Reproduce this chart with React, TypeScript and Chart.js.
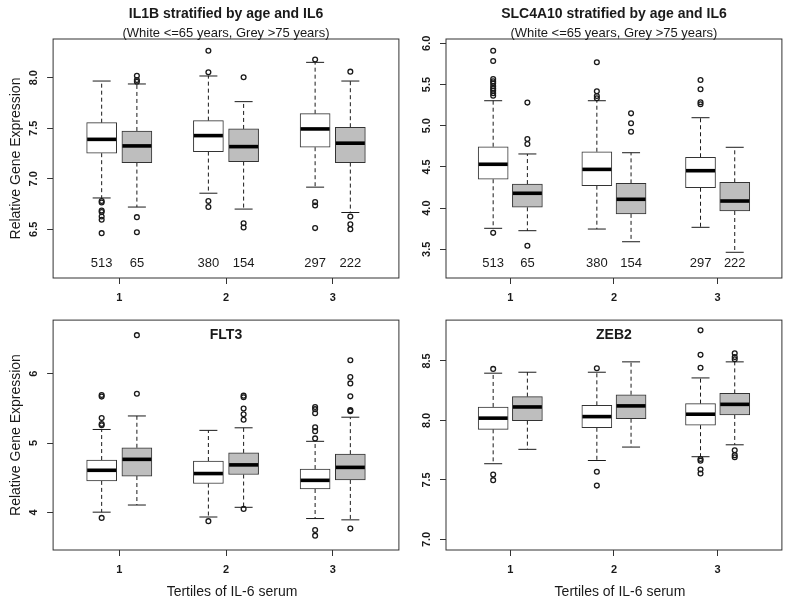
import React, { useEffect, useRef } from 'react';
import { Chart, registerables } from 'chart.js';

Chart.register(...registerables);

const FONT = "'Liberation Sans', Arial, sans-serif";

// categories
const tertiles = [1, 2, 3];
const tertileTicks = [1, 2, 3];
// sample sizes: white (<=65), grey (>75) for each tertile
const sampleSizes = [513, 65, 380, 154, 297, 222];

// box stats per tertile: [lower whisker, Q1, median, Q3, upper whisker]
const il1bWhite = [
  [6.81, 7.253, 7.39, 7.555, 7.967],
  [6.857, 7.269, 7.427, 7.575, 8.017],
  [6.917, 7.312, 7.493, 7.644, 8.152],
];
const il1bGrey = [
  [6.72, 7.16, 7.325, 7.473, 7.938],
  [6.7, 7.17, 7.318, 7.493, 7.763],
  [6.666, 7.16, 7.352, 7.51, 7.967],
];
const il1bWhiteOut = [
  [6.78, 6.765, 6.686, 6.67, 6.626, 6.594, 6.462],
  [8.267, 8.053, 6.78, 6.72],
  [8.18, 6.769, 6.735, 6.512],
];
const il1bGreyOut = [
  [8.02, 7.977, 7.96, 6.62, 6.47],
  [8.004, 6.56, 6.518],
  [8.06, 6.627, 6.55, 6.5],
];
const il1bTicks = [6.5, 7.0, 7.5, 8.0];

const slcWhite = [
  [3.755, 4.35, 4.532, 4.745, 5.303],
  [3.746, 4.272, 4.47, 4.684, 5.303],
  [3.767, 4.247, 4.454, 4.617, 5.097],
];
const slcGrey = [
  [3.726, 4.01, 4.18, 4.292, 4.657],
  [3.592, 3.93, 4.107, 4.3, 4.672],
  [3.464, 3.965, 4.086, 4.313, 4.738],
];
const slcWhiteOut = [
  [5.91, 5.785, 5.567, 5.54, 5.515, 5.48, 5.45, 5.425, 5.393, 5.364, 3.7],
  [5.77, 5.417, 5.36, 5.333],
  [5.555, 5.442, 5.284, 5.26],
];
const slcGreyOut = [
  [5.28, 4.839, 4.778, 3.544],
  [5.15, 5.03, 4.927],
  [],
];
const slcTicks = [3.5, 4.0, 4.5, 5.0, 5.5, 6.0];

const flt3White = [
  [4.003, 4.454, 4.607, 4.755, 5.196],
  [3.933, 4.416, 4.56, 4.741, 5.183],
  [3.911, 4.337, 4.462, 4.625, 5.025],
];
const flt3Grey = [
  [4.106, 4.524, 4.765, 4.932, 5.391],
  [4.073, 4.546, 4.685, 4.858, 5.22],
  [3.892, 4.468, 4.649, 4.84, 5.373],
];
const flt3WhiteOut = [
  [5.694, 5.67, 5.36, 5.276, 5.257, 3.92],
  [3.873],
  [5.52, 5.489, 5.429, 5.228, 5.172, 5.067, 3.744, 3.664],
];
const flt3GreyOut = [
  [6.557, 5.712],
  [5.684, 5.66, 5.499, 5.415, 5.336, 4.05],
  [6.195, 5.953, 5.861, 5.674, 5.475, 5.46, 3.766],
];
const flt3Ticks = [4, 5, 6];

const zeb2White = [
  [7.636, 7.925, 8.019, 8.113, 8.397],
  [7.663, 7.938, 8.032, 8.127, 8.405],
  [7.695, 7.96, 8.052, 8.141, 8.357],
];
const zeb2Grey = [
  [7.757, 7.998, 8.113, 8.2, 8.405],
  [7.776, 8.014, 8.122, 8.216, 8.492],
  [7.795, 8.046, 8.135, 8.227, 8.492],
];
const zeb2WhiteOut = [
  [8.433, 7.546, 7.498],
  [8.438, 7.568, 7.452],
  [8.757, 8.551, 8.443, 7.676, 7.662, 7.587, 7.554],
];
const zeb2GreyOut = [
  [],
  [],
  [8.565, 8.532, 8.514, 7.749, 7.708, 7.69],
];
const zeb2Ticks = [7.0, 7.5, 8.0, 8.5];

const SUBTITLE = '(White <=65 years, Grey >75 years)';
const Y_TITLE = 'Relative Gene Expression';
const X_TITLE = 'Tertiles of IL-6 serum';

type PanelProps = {
  left: number; top: number; width: number; height: number;
  padTop: number; padRight: number; yWidth: number; xHeight: number;
  white: number[][]; grey: number[][]; whiteOut: number[][]; greyOut: number[][];
  yMin: number; yMax: number; yTicks: number[]; decimals: number; yTickPad: number;
  title: string; subtitle?: string; titleInside: boolean;
  showCounts: boolean; showYTitle: boolean; showXTitle: boolean;
};

const SHIFT = [-0.165, 0.165];

function Panel(p: PanelProps) {
  const ref = useRef<HTMLCanvasElement>(null);
  useEffect(() => {
    const groupsStats = [p.white, p.grey];
    const groupsOut = [p.whiteOut, p.greyOut];
    const boxData = (g: number) =>
      groupsStats[g].map((s, i) => ({ x: tertiles[i] + SHIFT[g], y: [s[1], s[3]] }));
    const medians: any[] = [];
    const whiskers: any[] = [];
    const caps: any[] = [];
    const outliers: any[] = [];
    const countPos: number[] = [];
    tertiles.forEach((t, i) => {
      [0, 1].forEach((g) => {
        const s = groupsStats[g][i];
        const x = t + SHIFT[g];
        countPos.push(x);
        medians.push({ x, y: s[2] });
        whiskers.push({ x, y: s[3] }, { x, y: s[4] }, { x, y: null });
        whiskers.push({ x, y: s[1] }, { x, y: s[0] }, { x, y: null });
        caps.push({ x, y: s[0] }, { x, y: s[4] });
        groupsOut[g][i].forEach((v) => outliers.push({ x, y: v }));
      });
    });

    const textPlugin = {
      id: 'panelText',
      afterDraw(chart: any) {
        const { ctx, chartArea: a } = chart;
        const xs = chart.scales.x;
        ctx.save();
        ctx.strokeStyle = '#333';
        ctx.lineWidth = 1;
        ctx.strokeRect(a.left, a.top, a.right - a.left, a.bottom - a.top);
        ctx.fillStyle = '#1a1a1a';
        ctx.textAlign = 'center';
        ctx.textBaseline = 'middle';
        const cx = (a.left + a.right) / 2;
        ctx.font = `bold 14px ${FONT}`;
        if (p.titleInside) {
          ctx.fillText(p.title, cx, a.top + 15);
        } else {
          ctx.fillText(p.title, cx, a.top - 25);
        }
        if (p.subtitle) {
          ctx.font = `13px ${FONT}`;
          ctx.fillText(p.subtitle, cx, a.top - 5.7);
        }
        if (p.showCounts) {
          ctx.font = `13px ${FONT}`;
          countPos.forEach((x, k) => {
            ctx.fillText(String(sampleSizes[k]), xs.getPixelForValue(x), a.bottom - 15);
          });
        }
        if (p.showXTitle) {
          ctx.font = `14px ${FONT}`;
          ctx.fillText(X_TITLE, cx + 6, a.bottom + 41.7);
        }
        ctx.restore();
      },
    };

    const chart = new Chart(ref.current!, {
      type: 'bar',
      data: {
        datasets: [
          {
            type: 'scatter', label: 'median', data: medians, order: 0,
            pointStyle: 'line', pointRadius: 14.5, borderWidth: 3.6,
            borderColor: '#000', backgroundColor: '#000',
          } as any,
          {
            type: 'bar', label: 'White <=65 years', data: boxData(0), order: 1,
            backgroundColor: '#ffffff', borderColor: '#333', borderWidth: 1,
            borderSkipped: false, barThickness: 30, grouped: false,
          } as any,
          {
            type: 'bar', label: 'Grey >75 years', data: boxData(1), order: 1,
            backgroundColor: '#bebebe', borderColor: '#333', borderWidth: 1,
            borderSkipped: false, barThickness: 30, grouped: false,
          } as any,
          {
            type: 'line', label: 'whiskers', data: whiskers, order: 2,
            borderColor: '#1a1a1a', borderWidth: 1, borderDash: [4, 3],
            pointRadius: 0, spanGaps: false, fill: false,
          } as any,
          {
            type: 'scatter', label: 'caps', data: caps, order: 2,
            pointStyle: 'line', pointRadius: 9, borderWidth: 1,
            borderColor: '#1a1a1a',
          } as any,
          {
            type: 'scatter', label: 'outliers', data: outliers, order: 3,
            pointStyle: 'circle', pointRadius: 2.4, borderWidth: 1.3,
            borderColor: '#1a1a1a', backgroundColor: 'rgba(0,0,0,0)',
          } as any,
        ],
      },
      options: {
        animation: false,
        responsive: false,
        events: [],
        layout: { padding: { top: p.padTop, right: p.padRight, bottom: 0, left: 0 } },
        plugins: { legend: { display: false }, tooltip: { enabled: false }, title: { display: false } },
        scales: {
          x: {
            type: 'linear', min: 0.38, max: 3.62, offset: false,
            grid: { display: true, offset: false, drawOnChartArea: false, drawTicks: true, tickLength: 6, color: '#333' },
            border: { display: false },
            ticks: {
              autoSkip: false, padding: 7.5, color: '#1a1a1a',
              font: { family: FONT, size: 11, weight: 'bold' },
              callback: (v: any) => String(v),
            },
            afterBuildTicks: (s: any) => { s.ticks = tertileTicks.map((v) => ({ value: v })); },
            afterFit: (s: any) => { s.height = p.xHeight; },
          },
          y: {
            type: 'linear', min: p.yMin, max: p.yMax, beginAtZero: false,
            grid: { display: true, drawOnChartArea: false, drawTicks: true, tickLength: 6, color: '#333' },
            border: { display: false },
            ticks: {
              autoSkip: false, padding: p.yTickPad, color: '#1a1a1a',
              minRotation: 90, maxRotation: 90, crossAlign: 'center',
              font: { family: FONT, size: 11, weight: 'bold' },
              callback: (v: any) => Number(v).toFixed(p.decimals),
            },
            title: {
              display: p.showYTitle, text: Y_TITLE, color: '#1a1a1a',
              font: { family: FONT, size: 14 }, padding: { top: 7.6, bottom: 0 },
            },
            afterBuildTicks: (s: any) => { s.ticks = p.yTicks.map((v) => ({ value: v })); },
            afterFit: (s: any) => { s.width = p.yWidth; },
          },
        },
      } as any,
      plugins: [textPlugin],
    });
    return () => chart.destroy();
  }, []);
  return (
    <div style={{ position: 'absolute', left: p.left, top: p.top, width: p.width, height: p.height }}>
      <canvas ref={ref} width={p.width} height={p.height} style={{ width: p.width, height: p.height, display: 'block' }} />
    </div>
  );
}

export default function App() {
  return (
    <div style={{ position: 'fixed', left: 0, top: 0, width: 800, height: 604, background: '#fff' }}>
      <Panel left={0} top={0} width={420} height={302} padTop={39} padRight={21.1} yWidth={53.1} xHeight={24}
        white={il1bWhite} grey={il1bGrey} whiteOut={il1bWhiteOut} greyOut={il1bGreyOut}
        yMin={6.018} yMax={8.383} yTicks={il1bTicks} decimals={1} yTickPad={5.35}
        title="IL1B stratified by age and IL6" subtitle={SUBTITLE} titleInside={false}
        showCounts={true} showYTitle={true} showXTitle={false} />
      <Panel left={420} top={0} width={380} height={302} padTop={39} padRight={7.8} yWidth={26}
        xHeight={24}
        white={slcWhite} grey={slcGrey} whiteOut={slcWhiteOut} greyOut={slcGreyOut}
        yMin={3.152} yMax={6.052} yTicks={slcTicks} decimals={1} yTickPad={5.65}
        title="SLC4A10 stratified by age and IL6" subtitle={SUBTITLE} titleInside={false}
        showCounts={true} showYTitle={false} showXTitle={false} />
      <Panel left={0} top={302} width={420} height={302} padTop={9.7} padRight={21.1} yWidth={53.1} xHeight={54}
        white={flt3White} grey={flt3Grey} whiteOut={flt3WhiteOut} greyOut={flt3GreyOut}
        yMin={3.457} yMax={6.774} yTicks={flt3Ticks} decimals={0} yTickPad={9.9}
        title="FLT3" titleInside={true}
        showCounts={false} showYTitle={true} showXTitle={true} />
      <Panel left={420} top={302} width={380} height={302} padTop={9.7} padRight={7.8} yWidth={26}
        xHeight={54}
        white={zeb2White} grey={zeb2Grey} whiteOut={zeb2WhiteOut} greyOut={zeb2GreyOut}
        yMin={6.911} yMax={8.843} yTicks={zeb2Ticks} decimals={1} yTickPad={5.65}
        title="ZEB2" titleInside={true}
        showCounts={false} showYTitle={false} showXTitle={true} />
    </div>
  );
}
